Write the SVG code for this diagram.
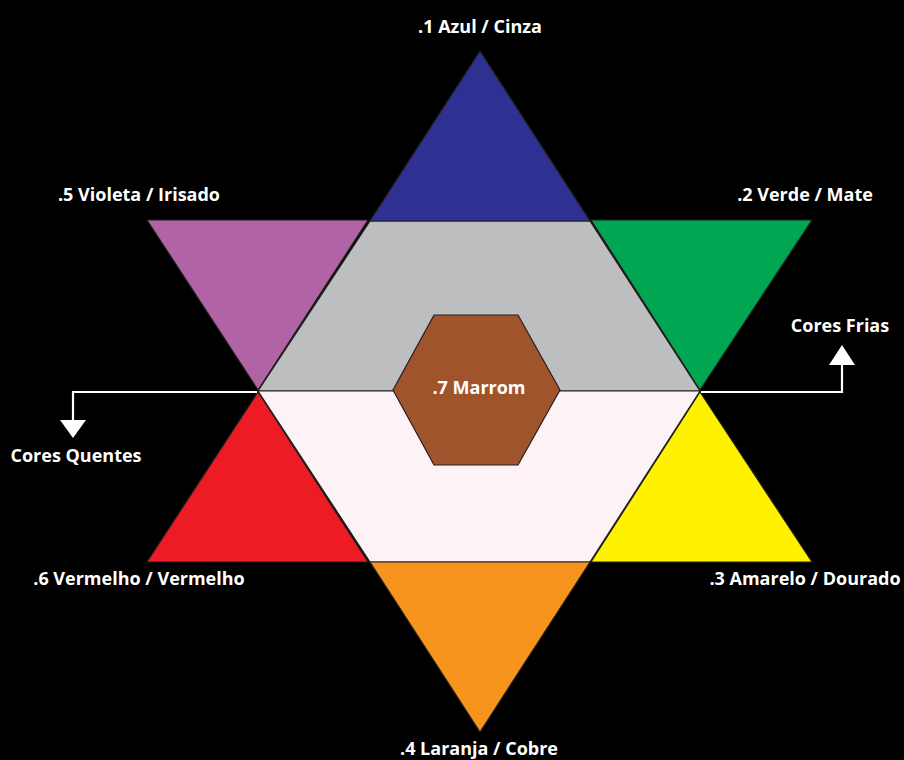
<svg xmlns="http://www.w3.org/2000/svg" width="904" height="760" viewBox="0 0 904 760">
<style>
.s{stroke:#231F20;stroke-width:1.2;stroke-linejoin:miter}
.t{font-family:"Open Sans","Liberation Sans",sans-serif;font-weight:700;font-size:18px;fill:#FFFFFF}
.c{stroke:#FFFFFF;stroke-width:2.2;fill:none}
</style>
<rect width="904" height="760" fill="#000000"/>
<g id="gray-band"><polygon class="s" points="370,221 590,221 700,391 258,391" fill="#BCBEC0"/></g>
<g id="pink-band"><polygon class="s" points="258,391 700,391 590,562 370,562" fill="#FDF2F5"/></g>
<g id="n1"><polygon class="s" points="480,51 590,221 370,221" fill="#2E3192"/><text class="t" x="480" y="33" text-anchor="middle">.1 Azul / Cinza</text></g>
<g id="n5"><polygon class="s" points="147,220 368,220 258,390" fill="#B164A5"/><text class="t" x="139" y="201" text-anchor="middle">.5 Violeta / Irisado</text></g>
<g id="n2"><polygon class="s" points="591,220 812,220 700,390" fill="#00A651"/><text class="t" x="805" y="201" text-anchor="middle">.2 Verde / Mate</text></g>
<g id="n6"><polygon class="s" points="258,392 368,562 147,562" fill="#ED1C24"/><text class="t" x="139" y="585" text-anchor="middle">.6 Vermelho / Vermelho</text></g>
<g id="n3"><polygon class="s" points="700,392 812,562 591,562" fill="#FFF200"/><text class="t" x="805" y="585" text-anchor="middle">.3 Amarelo / Dourado</text></g>
<g id="n4"><polygon class="s" points="370,562 590,562 480,732" fill="#F7941D"/><text class="t" x="479" y="755" text-anchor="middle">.4 Laranja / Cobre</text></g>
<g id="n7"><polygon class="s" points="434,315 518,315 560,390 518,465 434,465 393,390" fill="#A0542C" stroke-width="1.5"/><text class="t" x="479" y="394" text-anchor="middle">.7 Marrom</text></g>
<g id="connectors">
<polyline class="c" points="257,392 73,392 73,422"/>
<polygon points="60,420 86,420 73,438" fill="#FFFFFF"/>
<polyline class="c" points="701,392 842,392 842,362"/>
<polygon points="829,365 855,365 842,345" fill="#FFFFFF"/>
</g>
<g id="l-frias"><text class="t" x="840" y="332" text-anchor="middle">Cores Frias</text></g>
<g id="l-quentes"><text class="t" x="76" y="462" text-anchor="middle">Cores Quentes</text></g>
</svg>
